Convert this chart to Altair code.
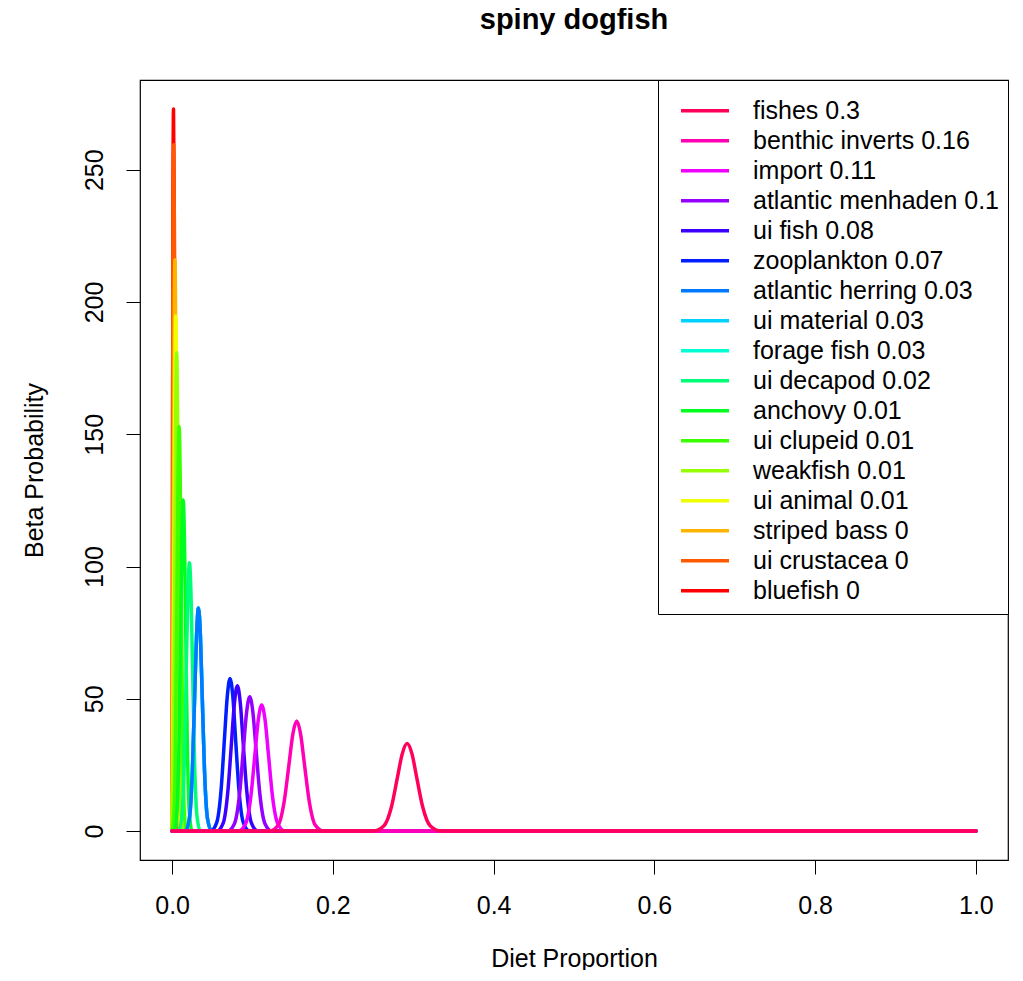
import altair as alt
import pandas as pd

# Legend labels (legend order, top to bottom) and line colours
labels = ["fishes 0.3", "benthic inverts 0.16", "import 0.11", "atlantic menhaden 0.1",
          "ui fish 0.08", "zooplankton 0.07", "atlantic herring 0.03", "ui material 0.03",
          "forage fish 0.03", "ui decapod 0.02", "anchovy 0.01", "ui clupeid 0.01",
          "weakfish 0.01", "ui animal 0.01", "striped bass 0", "ui crustacea 0", "bluefish 0"]
colors = ["#FF005A", "#FF00B4", "#F000FF", "#9600FF", "#3C00FF", "#001EFF", "#0078FF",
          "#00D2FF", "#00FFD2", "#00FF78", "#00FF1E", "#3CFF00", "#96FF00", "#F0FF00",
          "#FFB400", "#FF5A00", "#FF0000"]

# Curve points (x = diet proportion, y = beta probability)
fishes_x = [0, 0.2500, 0.2633, 0.2729, 0.2802, 0.2863, 0.2923, 0.2984, 0.3044, 0.3117, 0.3213, 0.3347, 1]
fishes_y = [0, 0, 1.9, 9.2, 20.1, 29.2, 33.1, 29.2, 20.1, 9.2, 1.9, 0, 0]
benthic_x = [0, 0.1214, 0.1320, 0.1396, 0.1454, 0.1502, 0.1550, 0.1598, 0.1646, 0.1704, 0.1780, 0.1886, 1]
benthic_y = [0, 0, 2.3, 11.6, 25.3, 36.7, 41.6, 36.7, 25.3, 11.6, 2.3, 0, 0]
import_x = [0, 0.0820, 0.0912, 0.0980, 0.1030, 0.1072, 0.1114, 0.1156, 0.1198, 0.1248, 0.1316, 0.1408, 1]
import_y = [0, 0, 2.7, 13.3, 29.0, 42.1, 47.7, 42.1, 29.0, 13.3, 2.7, 0, 0]
menhaden_x = [0, 0.0689, 0.0775, 0.0839, 0.0886, 0.0926, 0.0965, 0.1005, 0.1044, 0.1091, 0.1155, 0.1242, 1]
menhaden_y = [0, 0, 2.8, 14.1, 30.8, 44.8, 50.8, 44.8, 30.8, 14.1, 2.8, 0, 0]
uifish_x = [0, 0.0556, 0.0636, 0.0694, 0.0738, 0.0775, 0.0811, 0.0848, 0.0884, 0.0928, 0.0986, 0.1067, 1]
uifish_y = [0, 0, 3.1, 15.3, 33.3, 48.4, 54.9, 48.4, 33.3, 15.3, 3.1, 0, 0]
zoopl_x = [0, 0.0479, 0.0554, 0.0610, 0.0651, 0.0686, 0.0720, 0.0755, 0.0789, 0.0830, 0.0886, 0.0962, 1]
zoopl_y = [0, 0, 3.2, 16.0, 35.0, 50.9, 57.7, 50.9, 35.0, 16.0, 3.2, 0, 0]
herring_x = [0, 0.0163, 0.0214, 0.0252, 0.0280, 0.0304, 0.0327, 0.0351, 0.0374, 0.0402, 0.0440, 0.0492, 1]
herring_y = [0, 0, 4.7, 23.4, 51.2, 74.4, 84.3, 74.4, 51.2, 23.4, 4.7, 0, 0]
uimaterial_x = [0, 0.0163, 0.0214, 0.0252, 0.0280, 0.0304, 0.0327, 0.0351, 0.0374, 0.0402, 0.0440, 0.0492, 1]
uimaterial_y = [0, 0, 4.7, 23.4, 51.2, 74.4, 84.3, 74.4, 51.2, 23.4, 4.7, 0, 0]
forage_x = [0, 0.0163, 0.0214, 0.0252, 0.0280, 0.0304, 0.0327, 0.0351, 0.0374, 0.0402, 0.0440, 0.0492, 1]
forage_y = [0, 0, 4.7, 23.4, 51.2, 74.4, 84.3, 74.4, 51.2, 23.4, 4.7, 0, 0]
decapod_x = [0, 0.0079, 0.0121, 0.0153, 0.0176, 0.0196, 0.0215, 0.0235, 0.0254, 0.0277, 0.0309, 0.0352, 1]
decapod_y = [0, 0, 5.7, 28.2, 61.5, 89.4, 101.4, 89.4, 61.5, 28.2, 5.7, 0, 0]
anchovy_x = [0, 0.0025, 0.0060, 0.0086, 0.0105, 0.0121, 0.0137, 0.0153, 0.0169, 0.0188, 0.0214, 0.0249, 1]
anchovy_y = [0, 0, 7.0, 34.8, 76.0, 110.4, 125.2, 110.4, 76.0, 34.8, 7.0, 0, 0]
clupeid_x = [0, 0.0025, 0.0045, 0.0061, 0.0074, 0.0087, 0.0100, 0.0113, 0.0129, 0.0149, 0.0178, 1]
clupeid_y = [0, 8.6, 42.5, 92.8, 134.9, 152.9, 134.9, 92.8, 42.5, 8.6, 0, 0]
weakfish_x = [0, 0.0021, 0.0034, 0.0045, 0.0056, 0.0067, 0.0078, 0.0091, 0.0109, 0.0133, 1]
weakfish_y = [0, 50.3, 109.7, 159.5, 180.8, 159.5, 109.7, 50.3, 10.1, 0, 0]
uianimal_x = [0, 0.0013, 0.0025, 0.0035, 0.0045, 0.0055, 0.0065, 0.0077, 0.0093, 0.0115, 1]
uianimal_y = [0, 54.2, 118.2, 171.8, 194.8, 171.8, 118.2, 54.2, 10.9, 0, 0]
striped_x = [0, 0.0006, 0.0017, 0.0026, 0.0035, 0.0044, 0.0053, 0.0064, 0.0078, 0.0098, 1]
striped_y = [0, 60.0, 131.1, 190.5, 216.0, 190.5, 131.1, 60.0, 12.1, 0, 0]
crustacea_x = [0, 0.0005, 0.0013, 0.0020, 0.0028, 0.0035, 0.0044, 0.0056, 0.0073, 1]
crustacea_y = [0, 157.5, 228.8, 259.4, 228.8, 157.5, 72.1, 14.5, 0, 0]
bluefish_x = [0, 0.0010, 0.0017, 0.0025, 0.0032, 0.0041, 0.0053, 0.0070, 1]
bluefish_y = [0, 240.8, 273.0, 240.8, 165.7, 75.9, 15.3, 0, 0]

x_ticks = [0.0, 0.2, 0.4, 0.6, 0.8, 1.0]
y_ticks = [0, 50, 100, 150, 200, 250]

curves = [
    (fishes_x, fishes_y), (benthic_x, benthic_y), (import_x, import_y),
    (menhaden_x, menhaden_y), (uifish_x, uifish_y), (zoopl_x, zoopl_y),
    (herring_x, herring_y), (uimaterial_x, uimaterial_y), (forage_x, forage_y),
    (decapod_x, decapod_y), (anchovy_x, anchovy_y), (clupeid_x, clupeid_y),
    (weakfish_x, weakfish_y), (uianimal_x, uianimal_y), (striped_x, striped_y),
    (crustacea_x, crustacea_y), (bluefish_x, bluefish_y),
]

rows = []
for lab, (xs, ys) in zip(labels, curves):
    for i, (xv, yv) in enumerate(zip(xs, ys)):
        rows.append({"series": lab, "idx": i, "x": xv, "y": yv})
df = pd.DataFrame(rows)

FONT = "Liberation Sans"
FS = 25

color_scale = alt.Scale(domain=labels, range=colors)
x_enc = alt.X("x:Q", scale=alt.Scale(domain=[-0.04, 1.04], nice=False, zero=False),
              axis=alt.Axis(values=x_ticks, format=".1f", title="Diet Proportion",
                            grid=False, domain=False, tickSize=14, tickColor="black",
                            labelFontSize=FS, labelFont=FONT, labelColor="black",
                            labelPadding=19, titleFontSize=FS, titleFont=FONT,
                            titleFontWeight="normal", titleColor="black",
                            titleY=98, titleBaseline="middle"))
y_enc = alt.Y("y:Q", scale=alt.Scale(domain=[-10.92, 283.92], nice=False, zero=False),
              axis=alt.Axis(values=y_ticks, format="d", title="Beta Probability",
                            grid=False, domain=False, tickSize=14, tickColor="black",
                            labelFontSize=FS, labelFont=FONT, labelColor="black",
                            labelAngle=270, labelAlign="center", labelBaseline="alphabetic",
                            labelPadding=24, titleFontSize=FS, titleFont=FONT,
                            titleFontWeight="normal", titleColor="black",
                            titleX=-106, titleY=390, titleBaseline="middle",
                            titleAlign="center", titleAngle=270))

legend = alt.Legend(title=" ", titleFontSize=6, titlePadding=2,
                    orient="top-right", offset=0, symbolType="stroke",
                    symbolSize=2304, symbolStrokeWidth=3.5, labelFontSize=FS,
                    labelFont=FONT, labelColor="black", labelLimit=500,
                    clipHeight=29.7, rowPadding=0, padding=8, symbolOffset=13,
                    labelOffset=22, strokeColor="black", fillColor="white")

layers = []
for lab in reversed(labels):
    layers.append(
        alt.Chart(df).transform_filter(alt.datum.series == lab).mark_line(
            strokeWidth=3.5, interpolate="monotone", strokeCap="round", strokeJoin="round"
        ).encode(
            x=x_enc, y=y_enc,
            color=alt.Color("series:N", scale=color_scale, legend=legend),
            order="idx:Q",
        )
    )

chart = alt.layer(*layers).properties(
    width=868, height=780,
    title=alt.Title("spiny dogfish", fontSize=29, font=FONT, fontWeight="bold",
                    color="black", anchor="middle", offset=45),
    autosize=alt.AutoSizeParams(type="none"),
    padding={"left": 132, "top": 72, "right": 2, "bottom": 110},
).configure_view(stroke="black", strokeWidth=1.2)

chart.save("out.html", embed_options={"renderer": "svg", "actions": False})
